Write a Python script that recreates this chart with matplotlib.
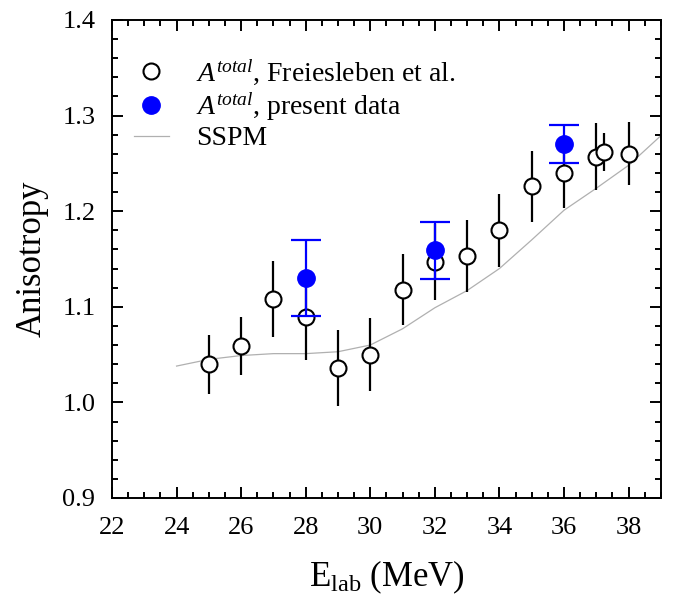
import matplotlib
matplotlib.use("Agg")
import matplotlib.pyplot as plt
from matplotlib.lines import Line2D
from matplotlib.ticker import MultipleLocator

plt.rcParams["font.family"] = ["Liberation Serif", "DejaVu Serif"]
plt.rcParams["mathtext.fontset"] = "custom"
plt.rcParams["mathtext.rm"] = "Liberation Serif"
plt.rcParams["mathtext.it"] = "Liberation Serif:italic"

# Freiesleben et al. data
fr_e = [25, 26, 27, 28, 29, 30, 31, 32, 33, 34, 35, 36, 37.0, 37.25, 38]
fr_a = [1.040, 1.059, 1.108, 1.089, 1.036, 1.050, 1.118, 1.147, 1.153, 1.180,
        1.226, 1.240, 1.257, 1.262, 1.260]
fr_err = [0.031, 0.030, 0.040, 0.045, 0.040, 0.038, 0.037, 0.040, 0.038, 0.038,
          0.037, 0.037, 0.035, 0.020, 0.033]

# present data
pr_e = [28, 32, 36]
pr_a = [1.130, 1.159, 1.270]
pr_err = [0.040, 0.030, 0.020]

# SSPM calculation
sspm_e = [24, 25, 26, 27, 28, 29, 30, 31, 32, 33, 34, 35, 36, 37, 38, 39]
sspm_a = [1.038, 1.045, 1.049, 1.051, 1.051, 1.053, 1.060, 1.077, 1.099, 1.117,
          1.140, 1.170, 1.201, 1.224, 1.248, 1.279]

fig = plt.figure(figsize=(6.73, 6.0), dpi=100)
ax = fig.add_axes([0.1664, 0.17, 0.8156, 0.7967])

ax.errorbar(fr_e, fr_a, yerr=fr_err, fmt="o", color="black", mfc="white",
            mec="black", mew=1.5, ms=11.5, elinewidth=1.6, capsize=0, zorder=3)
ax.errorbar(pr_e, pr_a, yerr=pr_err, fmt="o", color="blue", mfc="blue",
            mec="blue", ms=12.5, elinewidth=1.6, capsize=11, capthick=1.6,
            zorder=4)
ax.plot(sspm_e, sspm_a, color="#b0b0b0", lw=0.9, zorder=2)

ax.set_xlim(22, 39)
ax.set_ylim(0.9, 1.4)
ax.xaxis.set_major_locator(MultipleLocator(2))
ax.xaxis.set_minor_locator(MultipleLocator(0.5))
ax.yaxis.set_major_locator(MultipleLocator(0.1))
ax.yaxis.set_minor_locator(MultipleLocator(0.02))
ax.yaxis.set_major_formatter(plt.FuncFormatter(lambda v, p: f"{v:.1f}"))

ax.tick_params(which="both", direction="in", top=True, right=True, width=1.4,
               labelsize=19)
ax.tick_params(which="major", length=8)
ax.tick_params(axis="y", which="major", pad=12)
ax.tick_params(axis="x", which="major", pad=14)
ax.tick_params(which="minor", length=4.5)
for s in ax.spines.values():
    s.set_linewidth(1.4)

ax.set_xlabel(r"E$_{\mathrm{lab}}$ (MeV)", fontsize=25, labelpad=14)
ax.set_ylabel("Anisotropy", fontsize=25, labelpad=10)

handles = [
    Line2D([], [], ls="none", marker="o", mfc="white", mec="black", mew=1.5, ms=11.5),
    Line2D([], [], ls="none", marker="o", mfc="blue", mec="blue", ms=12.5),
    Line2D([], [], color="#b0b0b0", lw=0.9),
]
labels = [r"$A^{total}$, Freiesleben et al.", r"$A^{total}$, present data", "SSPM"]
ax.legend(handles, labels, loc="upper left", frameon=False, fontsize=20,
          bbox_to_anchor=(0.04, 0.922), handlelength=1.25, handletextpad=1.0,
          labelspacing=0.12, borderaxespad=0.0, borderpad=0.0)

fig.savefig("out.png", dpi=100)
